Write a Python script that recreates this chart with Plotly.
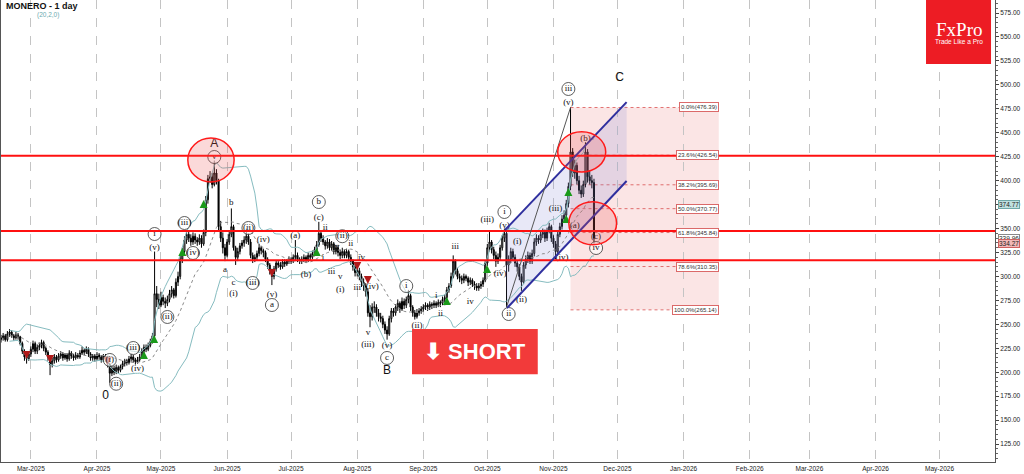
import pandas as pd
import plotly.graph_objects as go

# ---------------- data ----------------
start_date = "2025-02-15"
first_open = 234
close = [
    236, 238, 234, 240, 242, 238, 236,
    239, 237, 230, 222, 216, 214, 219,
    224, 230, 222, 226, 228, 231, 225,
    221, 216, 208, 212, 216, 213, 217,
    219, 215, 218, 214, 220, 217, 215,
    218, 216, 220, 223, 221, 224, 219,
    215, 217, 214, 218, 216, 213, 217,
    214, 208, 199, 204, 200, 205, 202,
    206, 209, 212, 210, 214, 216, 213,
    211, 213, 216, 222, 226, 224, 228,
    232, 238, 282, 276, 270, 278, 274,
    272, 276, 282, 286, 280, 294, 300,
    318, 326, 338, 344, 340, 336, 342,
    338, 336, 340, 334, 346, 380, 402,
    404, 396, 408, 400, 352, 340, 330,
    322, 336, 344, 352, 330, 320, 326,
    332, 335, 338, 342, 336, 322, 318,
    320, 324, 330, 327, 325, 318, 312,
    306, 300, 308, 314, 312, 310, 315,
    313, 316, 318, 316, 320, 322, 318,
    316, 318, 320, 317, 322, 320, 324,
    328, 333, 345, 340, 336, 332, 336,
    330, 334, 326, 330, 325, 322, 326,
    322, 326, 320, 316, 310, 304, 306,
    300, 294, 290, 284, 262, 258, 268,
    268, 262, 258, 256, 250, 244, 240,
    256, 264, 262, 268, 272, 266, 274,
    270, 276, 280, 268, 262, 258, 262,
    264, 266, 268, 270, 268, 271, 270,
    272, 270, 273, 272, 276, 278, 286,
    290, 300, 316, 306, 300, 298, 296,
    300, 298, 294, 296, 292, 290, 288,
    290, 292, 296, 314, 330, 336, 328,
    322, 316, 320, 330, 340, 345, 312,
    318, 326, 320, 314, 310, 300, 294,
    312, 318, 322, 316, 324, 336, 340,
    338, 344, 346, 340, 348, 352, 340,
    334, 326, 344, 352, 360, 364, 376,
    394, 430, 408, 416, 400, 390, 386,
    396, 430, 404, 400, 398, 339.96,
]
high = [
    239, 241, 240, 243, 245, 244, 240,
    242, 241, 238, 232, 224, 219, 222,
    227, 233, 232, 229, 231, 234, 233,
    227, 223, 218, 215, 219, 218, 220,
    222, 221, 220, 220, 223, 222, 219,
    221, 220, 223, 227, 225, 227, 226,
    221, 219, 219, 221, 220, 218, 219,
    219, 216, 210, 207, 207, 208, 207,
    208, 212, 214, 214, 217, 219, 218,
    215, 216, 219, 225, 229, 229, 231,
    235, 241, 326, 290, 282, 284, 281,
    278, 280, 286, 290, 288, 298, 305,
    322, 330, 342, 348, 347, 344, 346,
    345, 341, 344, 343, 349, 384, 406,
    410, 408, 421, 412, 402, 358, 346,
    334, 339, 348, 371, 354, 332, 330,
    335, 338, 342, 350, 345, 339, 325,
    323, 327, 334, 332, 329, 327, 320,
    314, 308, 311, 317, 316, 315, 318,
    318, 318, 321, 320, 323, 338, 325,
    320, 321, 323, 322, 325, 324, 327,
    331, 337, 357, 348, 343, 338, 340,
    339, 337, 336, 333, 333, 328, 330,
    328, 329, 328, 323, 318, 313, 310,
    309, 303, 298, 293, 288, 270, 272,
    274, 271, 266, 262, 259, 253, 248,
    259, 267, 267, 271, 276, 274, 278,
    277, 279, 286, 282, 270, 265, 266,
    267, 269, 271, 273, 272, 274, 273,
    275, 274, 276, 275, 279, 281, 289,
    293, 304, 322, 318, 309, 303, 301,
    303, 302, 300, 299, 298, 295, 293,
    293, 295, 299, 317, 334, 348, 338,
    331, 326, 324, 333, 343, 350, 348,
    322, 330, 329, 323, 317, 313, 303,
    315, 322, 326, 325, 328, 340, 344,
    343, 348, 350, 349, 351, 356, 354,
    343, 337, 347, 356, 364, 369, 380,
    398, 476.39, 434, 422, 419, 405, 395,
    400, 440, 433, 410, 406, 402,
]
low = [
    231, 233, 232, 232, 237, 236, 233,
    234, 234, 228, 219, 212, 209, 212,
    216, 221, 219, 219, 223, 225, 222,
    218, 212, 197, 205, 209, 210, 211,
    214, 212, 213, 211, 212, 214, 212,
    213, 214, 214, 218, 218, 219, 216,
    212, 212, 211, 212, 213, 210, 211,
    211, 205, 189, 196, 197, 198, 199,
    200, 203, 206, 207, 208, 211, 210,
    208, 209, 211, 214, 219, 221, 222,
    226, 230, 236, 268, 266, 268, 270,
    267, 269, 273, 278, 277, 278, 290,
    297, 314, 322, 334, 336, 332, 333,
    334, 332, 333, 330, 332, 342, 376,
    398, 392, 394, 396, 348, 336, 324,
    316, 320, 333, 341, 327, 312, 316,
    323, 329, 331, 334, 333, 319, 314,
    315, 317, 321, 323, 320, 315, 308,
    302, 291, 297, 305, 309, 307, 308,
    310, 311, 313, 313, 314, 317, 315,
    313, 313, 315, 314, 315, 317, 318,
    321, 325, 331, 336, 333, 328, 329,
    327, 327, 323, 323, 321, 318, 319,
    319, 319, 317, 312, 306, 300, 300,
    296, 289, 285, 279, 258, 247, 254,
    262, 258, 253, 252, 246, 240, 234,
    238, 252, 258, 259, 264, 262, 264,
    266, 267, 272, 264, 258, 255, 256,
    259, 261, 263, 265, 264, 265, 266,
    267, 267, 268, 268, 270, 273, 276,
    283, 288, 298, 302, 297, 294, 292,
    293, 295, 290, 291, 289, 286, 285,
    285, 287, 289, 294, 311, 326, 324,
    318, 310, 313, 317, 327, 336, 268,
    305, 314, 316, 310, 305, 296, 285,
    292, 308, 314, 313, 313, 321, 332,
    334, 335, 340, 336, 337, 345, 336,
    330, 318, 322, 341, 349, 356, 361,
    372, 390, 404, 402, 396, 386, 382,
    383, 393, 398, 396, 392, 334.27,
]

red_levels = [426.0, 347.5, 317.0]

fib_pcts = ["0.0%", "23.6%", "38.2%", "50.0%", "61.8%", "78.6%", "100.0%"]
fib_values = [476.39, 426.54, 395.69, 370.77, 345.84, 310.35, 265.14]
fib_start, fib_end = "2025-11-09", "2026-01-17 12:00"

channel_upper = [("2025-10-09 07:00", 348.5), ("2025-12-05 07:00", 482.0)]
channel_lower = [("2025-10-10 05:00", 267.0), ("2025-12-05 07:00", 399.6)]
wave_line = [("2025-10-10", 268.0), ("2025-11-09", 476.39)]

circles = [  # x0, x1, y0, y1
    ("2025-05-13 14:00", "2025-06-04 07:00", 398.6, 444.5),
    ("2025-11-03", "2025-11-25 12:00", 409.0, 451.0),
    ("2025-11-08 05:00", "2025-11-30 14:00", 333.0, 378.0),
]

buy_dates = ["2025-04-23", "2025-04-27 19:00", "2025-05-11", "2025-05-21", "2025-07-13",
             "2025-09-12", "2025-09-30 21:00", "2025-11-07", "2025-11-08"]
buy_prices = [222.2, 238.9, 329.7, 379.8, 329.7, 278.5, 311.9, 364.1, 392.3]
sell_dates = ["2025-02-27", "2025-03-10", "2025-04-06", "2025-06-22", "2025-08-01", "2025-08-06"]
sell_prices = [213.8, 209.7, 207.6, 299.4, 306.7, 292.1]

# (date, price, text, circled)
wave_labels = [
    ("2025-04-10", 188.0, "(ii)", True), ("2025-04-07", 212.8, "(i)", True),
    ("2025-04-18", 225.3, "(iii)", True), ("2025-04-20", 203.4, "(iv)", False),
    ("2025-04-28", 344.3, "i", True), ("2025-04-28", 329.7, "(v)", False),
    ("2025-05-04", 257.7, "(ii)", True), ("2025-05-12", 355.8, "(iii)", True),
    ("2025-05-16", 324.5, "(iv)", True), ("2025-05-26", 424.7, "v", True),
    ("2025-05-31", 306.7, "a", False), ("2025-06-03", 376.7, "b", False),
    ("2025-06-04", 293.2, "c", False), ("2025-06-04", 281.7, "(i)", False),
    ("2025-06-11", 350.6, "(ii)", True), ("2025-06-18", 338.0, "(iv)", False),
    ("2025-06-13", 293.2, "(iii)", True), ("2025-06-22", 280.6, "(v)", False),
    ("2025-06-22", 270.2, "a", True), ("2025-07-03", 342.2, "(a)", False),
    ("2025-07-08", 301.5, "(b)", False), ("2025-07-14", 377.7, "b", True),
    ("2025-07-14", 361.0, "(c)", False), ("2025-07-17", 350.6, "ii", False),
    ("2025-07-25", 342.0, "(ii)", True), ("2025-07-29", 334.0, "ii", False),
    ("2025-07-22", 330.8, "iv", False), ("2025-07-16", 319.3, "i", False),
    ("2025-07-20", 304.6, "iii", False), ("2025-07-24", 299.4, "v", False),
    ("2025-07-24", 285.9, "(i)", False), ("2025-08-01", 287.9, "iii", False),
    ("2025-08-03", 319.3, "iv", False), ("2025-08-08", 289.0, "(iv)", False),
    ("2025-08-06", 241.0, "v", False), ("2025-08-06", 228.4, "(iii)", False),
    ("2025-08-15", 227.4, "(v)", False), ("2025-08-15", 214.9, "c", True),
    ("2025-08-24", 290.0, "i", True), ("2025-08-29", 248.3, "(ii)", False),
    ("2025-09-07", 279.6, "i", False), ("2025-09-09", 260.8, "ii", False),
    ("2025-09-16", 330.7, "iii", False), ("2025-09-23", 273.3, "iv", False),
    ("2025-10-01", 358.9, "(iii)", False), ("2025-10-07", 302.6, "(iv)", False),
    ("2025-10-09", 367.3, "i", True), ("2025-10-09", 352.7, "(v)", False),
    ("2025-10-11", 260.8, "ii", True), ("2025-10-15", 335.9, "(i)", False),
    ("2025-10-17", 275.4, "(ii)", False), ("2025-11-02", 370.4, "(iii)", False),
    ("2025-11-05", 319.3, "(iv)", False), ("2025-11-11", 352.7, "(a)", False),
    ("2025-11-08", 495.7, "iii", True), ("2025-11-08", 481.0, "(v)", False),
    ("2025-11-16", 443.5, "(b)", False), ("2025-11-21", 341.2, "(c)", False),
    ("2025-11-21", 329.7, "iv", True),
]
big_labels = [("2025-04-05", 175.5, "0"), ("2025-05-26", 438.3, "A"),
              ("2025-08-15", 201.3, "B"), ("2025-12-02", 507.2, "C")]

price_tags = [(374.77, "#bfe0e0", "#6fa8a8"), (339.96, "#ffffff", "#888888"),
              (334.27, "#f2b8b8", "#d06060")]

# ---------------- figure ----------------
dates = pd.date_range(start_date, periods=len(close), freq="D")
opens = [first_open] + close[:-1]
s = pd.Series(close, index=dates)
mid = s.rolling(20, min_periods=5).mean()
sd = s.rolling(20, min_periods=5).std(ddof=0)
upper = mid + 2 * sd
lower = mid - 2 * sd

fig = go.Figure()
SERIF = "Liberation Serif, DejaVu Serif, serif"
SANS = "Liberation Sans, Arial, sans-serif"

# Fib box + levels
fig.add_shape(type="rect", x0=fib_start, x1=fib_end, y0=min(fib_values), y1=max(fib_values),
              xref="x", yref="y", fillcolor="rgba(235,110,110,0.18)", line=dict(width=0), layer="below")
for p, v in zip(fib_pcts, fib_values):
    fig.add_shape(type="line", x0=fib_start, x1=fib_end, y0=v, y1=v, xref="x", yref="y",
                  line=dict(color="rgba(215,70,70,0.75)", width=1, dash="dot"), layer="below")
    fig.add_annotation(x=fib_end, y=v, xref="x", yref="y", text=f"{p}({v:.2f})", showarrow=False,
                       xanchor="right", yanchor="middle", font=dict(family=SANS, size=6, color="#333"),
                       bgcolor="white", bordercolor="rgba(215,90,90,0.9)", borderwidth=1, borderpad=1)

# Channel fill
(ux0, uy0), (ux1, uy1) = channel_upper
(lx0, ly0), (lx1, ly1) = channel_lower
fig.add_trace(go.Scatter(x=[ux0, ux1, lx1, lx0, ux0], y=[uy0, uy1, ly1, ly0, uy0], mode="lines",
                         fill="toself", fillcolor="rgba(140,140,215,0.2)", line=dict(width=0),
                         hoverinfo="skip", showlegend=False))

# Bollinger bands
fig.add_trace(go.Scatter(x=dates, y=upper, mode="lines", line=dict(color="#86bcc0", width=1),
                         hoverinfo="skip", showlegend=False))
fig.add_trace(go.Scatter(x=dates, y=lower, mode="lines", line=dict(color="#86bcc0", width=1),
                         hoverinfo="skip", showlegend=False))
fig.add_trace(go.Scatter(x=dates, y=mid, mode="lines", line=dict(color="#8a8a8a", width=1, dash="dot"),
                         hoverinfo="skip", showlegend=False))

# Candles
fig.add_trace(go.Candlestick(x=dates, open=opens, high=high, low=low, close=close,
                             increasing=dict(line=dict(color="#000000", width=1), fillcolor="#ffffff"),
                             decreasing=dict(line=dict(color="#000000", width=1), fillcolor="#000000"),
                             whiskerwidth=0, showlegend=False))

# Red horizontal levels
for lv in red_levels:
    fig.add_shape(type="line", x0=0, x1=1, xref="paper", y0=lv, y1=lv, yref="y",
                  line=dict(color="#ff1010", width=2))

# Channel lines and wave line
for (a, b) in (channel_upper, channel_lower):
    fig.add_shape(type="line", x0=a[0], y0=a[1], x1=b[0], y1=b[1], xref="x", yref="y",
                  line=dict(color="#2f2f9e", width=2))
fig.add_shape(type="line", x0=wave_line[0][0], y0=wave_line[0][1], x1=wave_line[1][0], y1=wave_line[1][1],
              xref="x", yref="y", line=dict(color="#555555", width=1))

# Red circles
for x0, x1, y0, y1 in circles:
    fig.add_shape(type="circle", x0=x0, x1=x1, y0=y0, y1=y1, xref="x", yref="y",
                  fillcolor="rgba(235,80,80,0.22)", line=dict(color="#ff1a1a", width=1.5))

# Signals
fig.add_trace(go.Scatter(x=buy_dates, y=buy_prices, mode="markers",
                         marker=dict(symbol="arrow-up", size=8, color="#1a9a1a"),
                         hoverinfo="skip", showlegend=False))
fig.add_trace(go.Scatter(x=sell_dates, y=sell_prices, mode="markers",
                         marker=dict(symbol="arrow-down", size=8, color="#b01a1a"),
                         hoverinfo="skip", showlegend=False))

# Wave labels
circ = [l for l in wave_labels if l[3]]
fig.add_trace(go.Scatter(x=[l[0] for l in circ], y=[l[1] for l in circ], mode="markers",
                         marker=dict(symbol="circle", size=13, color="rgba(255,255,255,0.6)",
                                     line=dict(color="#333", width=0.8)),
                         hoverinfo="skip", showlegend=False))
fig.add_trace(go.Scatter(x=[l[0] for l in wave_labels], y=[l[1] for l in wave_labels], mode="text",
                         text=[l[2] for l in wave_labels], textposition="middle center",
                         textfont=dict(family=SERIF, size=9, color="#111"),
                         hoverinfo="skip", showlegend=False))
fig.add_trace(go.Scatter(x=[l[0] for l in big_labels], y=[l[1] for l in big_labels], mode="text",
                         text=[l[2] for l in big_labels], textposition="middle center",
                         textfont=dict(family=SANS, size=12, color="#111"),
                         hoverinfo="skip", showlegend=False))

# Right-side price tags
for v, bg, bc in price_tags:
    fig.add_annotation(x=1.003, y=v, xref="paper", yref="y", text=f"{v:.2f}", showarrow=False,
                       xanchor="left", yanchor="middle", font=dict(family=SANS, size=6.5, color="#222"),
                       bgcolor=bg, bordercolor=bc, borderwidth=1, borderpad=0)

# Title
fig.add_annotation(x=0.003, y=0.986, xref="paper", yref="paper", text="<b>MONERO - 1 day</b>",
                   showarrow=False, xanchor="left", yanchor="middle",
                   font=dict(family=SANS, size=9, color="#111"))
fig.add_annotation(x=0.034, y=0.968, xref="paper", yref="paper", text="(20,2,0)",
                   showarrow=False, xanchor="left", yanchor="middle",
                   font=dict(family=SANS, size=6.5, color="#6aaab0"))

# FxPro logo
fig.add_shape(type="rect", x0=0.9306, x1=0.996, y0=0.8615, y1=1.0, xref="paper", yref="paper",
              fillcolor="#ed1c24", line=dict(width=0))
fig.add_annotation(x=0.9633, y=0.937, xref="paper", yref="paper", text="FxPro", showarrow=False,
                   font=dict(family=SERIF, size=19, color="white"), xanchor="center", yanchor="middle")
fig.add_annotation(x=0.9633, y=0.911, xref="paper", yref="paper", text="Trade Like a Pro",
                   showarrow=False, font=dict(family=SANS, size=6.5, color="white"),
                   xanchor="center", yanchor="middle")

# SHORT badge
fig.add_shape(type="rect", x0=0.4135, x1=0.540, y0=0.190, y1=0.288, xref="paper", yref="paper",
              fillcolor="#f23a3a", line=dict(width=0))
fig.add_annotation(x=0.4768, y=0.239, xref="paper", yref="paper",
                   text="<b>\u2b07 SHORT</b>", showarrow=False, xanchor="center", yanchor="middle",
                   font=dict(family=SANS, size=22, color="white"))

fig.update_layout(
    width=1024, height=474,
    margin=dict(l=1, r=29, t=0, b=12),
    paper_bgcolor="white", plot_bgcolor="white",
    showlegend=False,
    xaxis=dict(type="date", range=["2025-02-15", "2026-05-27"], dtick="M1", tick0="2025-03-01",
               tickformat="%b-%Y", showgrid=True, gridcolor="#c4c4c4", griddash="dash", gridwidth=1,
               ticks="", tickfont=dict(family=SANS, size=6.5, color="#222"),
               showline=True, linecolor="#555", linewidth=1, mirror=True,
               rangeslider=dict(visible=False), zeroline=False),
    yaxis=dict(side="right", range=[106.3, 588.6], dtick=25, tick0=0, tickformat=".2f",
               showgrid=False, ticks="outside", ticklen=3, tickcolor="#444",
               minor=dict(dtick=5, ticks="outside", ticklen=2, tickcolor="#666"),
               tickfont=dict(family=SANS, size=6.5, color="#222"),
               showline=True, linecolor="#555", linewidth=1, mirror=True, zeroline=False),
)

fig.write_html("out.html", config={"displayModeBar": False},
               post_script="document.body.style.margin='0';document.body.style.overflow='hidden';")
